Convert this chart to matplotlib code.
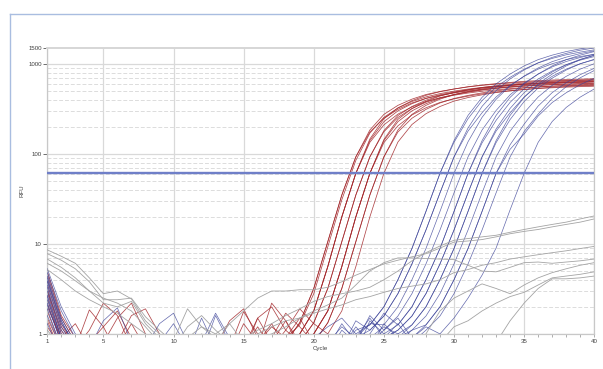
import matplotlib
matplotlib.use("Agg")
import matplotlib.pyplot as plt
from matplotlib.lines import Line2D
from matplotlib.ticker import FixedLocator, NullFormatter

# Cycle numbers
cycles = list(range(1, 41))

# Threshold (RFU)
threshold = 61

# Red samples (RFU per cycle)
red_rfu = [
    [3.2,1.0,0.6,0.7,0.6,0.8,0.6,0.7,0.6,0.8, 0.7,0.6,0.7,0.6,0.8,0.7,0.6,0.9,1.26,2.8, 9.3,31,85,171,256,325,384,432,470,501, 528,551,569,585,600,610,619,627,634,641],
    [4.1,1.3,0.7,1.85,1.2,0.6,0.7,0.6,0.7,0.6, 0.8,0.6,0.7,0.6,0.7,1.2,0.7,0.8,1.33,3.2, 10.6,35,93,185,276,348,408,459,497,529, 558,581,599,616,631,642,652,658,666,673],
    [2.5,0.8,0.6,0.7,0.8,1.5,2.2,1.0,0.6,0.7, 0.6,0.7,0.6,0.8,0.6,0.7,0.8,0.7,1.0,1.8, 5.6,20,61,141,229,302,363,417,457,490, 519,543,562,580,596,607,617,624,631,638],
    [1.8,0.7,0.6,0.8,0.6,0.7,0.6,0.7,0.8,0.6, 0.7,0.6,0.8,0.7,1.77,1.0,0.7,0.8,1.33,3.2, 10.6,35,93,176,250,314,370,415,449,479, 504,525,542,558,571,580,590,596,602,609],
    [3.6,1.2,0.7,1.1,2.2,1.6,0.7,0.6,0.7,0.6, 0.7,0.8,0.6,0.7,0.6,0.8,1.3,0.7,1.0,1.8, 5.6,20,61,147,247,326,392,450,494,529, 561,586,607,626,644,656,666,674,681,689],
    [1.4,0.6,0.7,0.6,0.8,0.7,1.3,0.7,0.6,0.8, 0.6,0.7,0.6,0.7,0.8,0.7,2.2,1.4,0.8,1.33, 3.2,10.6,35,93,177,255,321,377,424,459, 489,515,536,553,569,583,593,602,608,615],
    [2.9,0.9,0.6,0.7,0.6,0.8,1.6,1.9,1.0,0.6, 0.7,0.6,0.7,0.6,1.3,0.8,0.6,0.7,1.0,1.8, 5.6,20,61,135,211,278,334,384,420,451, 477,500,517,534,548,558,568,574,581,587],
    [2.2,0.8,0.6,0.7,0.6,0.7,0.6,0.8,0.6,0.7, 0.6,0.7,0.8,0.6,0.7,1.5,2.0,1.1,0.8,1.0, 1.8,5.6,20,61,141,229,302,363,417,457, 490,519,543,562,580,596,607,617,624,631],
    [1.5,0.7,0.6,0.8,0.7,0.6,0.7,0.6,0.8,0.6, 0.7,0.6,0.7,0.8,0.6,0.7,0.9,1.7,1.2,0.8, 1.33,3.2,10.6,35,93,176,250,314,370,415, 449,479,504,525,542,558,571,580,590,596],
    [4.6,1.5,0.8,0.6,0.7,0.6,0.7,0.8,0.6,0.7, 0.6,0.8,0.7,1.4,1.9,0.9,0.7,0.6,0.8,1.0, 1.8,5.6,20,61,134,206,272,327,375,411, 441,467,489,506,522,536,546,555,562,568],
    [2.0,0.9,1.3,0.7,0.6,0.7,0.6,0.8,0.6,0.7, 0.8,0.6,0.7,0.6,0.7,0.8,1.2,0.9,1.5,0.8, 1.33,3.2,10.6,35,93,185,276,348,408,459, 497,529,558,581,599,616,631,642,652,658],
    [3.0,1.1,0.6,0.7,0.8,0.6,0.7,0.6,0.7,0.8, 0.6,0.7,0.6,0.7,0.8,0.6,0.7,1.1,1.9,1.3, 1.0,1.8,5.6,20,61,136,213,281,338,388, 425,456,483,505,523,539,554,564,574,580],
    [1.2,0.7,0.6,0.8,1.2,1.8,0.9,0.6,0.7,0.6, 0.7,0.6,0.8,0.6,0.7,0.6,0.8,1.4,0.7,1.0, 1.8,5.6,20,61,145,243,320,385,442,484, 519,550,576,596,615,632,643,654,661,669],
    [5.0,1.6,0.9,0.6,0.7,0.6,0.8,0.6,0.7,0.6, 0.8,0.7,0.6,0.7,0.6,1.5,0.8,0.7,0.8,1.33, 3.2,10.6,35,93,182,268,338,397,446,482, 514,542,564,581,599,613,623,633,640,647],
]

# Blue samples (RFU per cycle)
blue_rfu = [
    [4.8,1.8,0.9,0.7,1.4,1.95,0.8,0.6,0.7,0.6, 0.7,0.6,0.8,0.6,0.7,0.6,0.7,0.8,0.6,0.9, 1.2,1.5,1.0,1.26,2.0,4.0,8.9,23,61,141, 269,427,603,776,955,1122,1259,1380,1479,1567],
    [3.5,1.2,0.7,0.6,0.8,0.7,0.6,0.7,1.3,1.7, 0.8,0.6,0.7,0.6,0.8,0.7,0.6,0.7,0.8,0.6, 0.9,0.7,1.1,1.26,2.0,4.0,8.9,23,61,135, 247,393,555,714,879,1032,1158,1270,1361,1442],
    [2.7,0.9,0.6,0.7,0.6,0.8,0.7,0.6,0.7,0.8, 0.6,1.5,0.7,0.6,0.7,0.6,0.8,0.7,0.6,0.8, 1.0,0.7,1.4,1.1,1.58,2.8,6.0,14.3,37,93, 195,339,507,684,861,1035,1189,1318,1429,1514],
    [4.2,1.4,0.7,0.6,0.7,0.6,0.8,0.6,0.7,0.6, 0.7,0.8,1.7,0.9,0.6,0.7,0.6,0.8,0.7,0.6, 0.8,1.2,0.9,1.1,1.58,2.8,6.0,14.3,37,93, 180,288,431,581,732,880,1011,1120,1215,1287],
    [3.0,1.0,0.6,0.8,0.7,0.6,0.7,0.6,0.8,1.3, 0.7,0.6,0.7,0.6,0.7,0.8,0.6,0.7,0.6,0.7, 0.8,0.6,0.9,1.3,1.26,2.0,4.0,8.9,23,61, 137,256,406,573,737,907,1066,1196,1311,1405],
    [2.1,0.8,0.6,0.7,0.6,0.7,0.8,0.6,0.7,0.6, 0.8,0.7,0.6,0.7,0.6,0.7,0.6,0.8,0.7,0.6, 0.7,1.3,0.8,1.6,1.1,1.58,2.8,6.0,14.3,37, 93,185,305,456,616,775,932,1070,1186,1286],
    [5.3,2.0,1.0,0.7,0.6,0.7,0.6,0.7,0.8,0.6, 0.7,0.6,1.6,0.8,0.6,0.7,0.6,0.7,0.8,0.6, 0.7,0.6,0.8,1.0,1.7,1.26,2.0,4.0,8.9,23, 61,141,269,427,603,776,955,1122,1259,1380],
    [1.6,0.7,0.6,0.8,0.6,0.7,0.6,0.8,0.7,0.6, 0.7,0.6,0.8,0.6,0.7,0.6,0.7,0.6,0.8,0.7, 0.6,1.1,0.8,0.7,1.0,1.26,2.0,4.0,8.9,23, 61,133,237,376,531,683,840,987,1108,1214],
    [3.8,1.3,0.8,0.6,0.7,0.6,0.7,0.6,0.7,0.8, 0.6,0.7,0.6,0.7,0.6,0.8,0.7,0.6,0.7,0.6, 0.8,0.7,1.2,0.8,0.9,1.1,1.58,2.8,6.0,14.3, 37,93,190,322,482,650,818,983,1130,1252],
    [2.4,0.9,0.7,0.6,0.8,0.6,0.7,0.6,0.8,0.6, 0.7,0.6,0.7,0.6,0.8,0.6,0.7,0.6,0.7,0.8, 0.6,0.7,0.9,1.5,0.9,1.1,1.58,2.8,6.0,14.3, 37,93,180,288,431,581,732,880,1011,1120],
    [4.4,1.5,0.8,0.6,0.7,0.6,0.7,0.6,0.7,0.6, 0.8,0.7,0.6,0.7,0.6,0.7,0.6,0.8,0.7,0.6, 0.7,0.6,0.8,0.7,1.3,0.9,1.26,2.0,4.0,8.9, 23,61,134,242,384,543,698,860,1010,1133],
    [1.9,0.7,0.6,0.7,0.6,0.8,0.6,0.7,0.6,0.7, 0.6,0.7,0.8,0.6,0.7,0.6,0.7,0.6,0.8,0.6, 0.7,0.8,0.6,0.9,1.2,1.0,1.26,2.0,4.0,8.9, 23,61,141,269,427,603,776,955,1122,1259],
    [3.3,1.1,0.7,0.6,0.7,0.6,0.8,0.6,0.7,0.6, 0.7,0.6,0.7,0.6,0.8,0.6,0.7,0.6,0.7,0.6, 0.8,0.7,0.6,1.4,1.0,0.8,1.1,1.58,2.8,6.0, 14.3,37,93,180,288,431,581,732,880,1011],
    [2.6,0.9,0.6,0.7,0.6,0.7,0.6,0.8,0.6,0.7, 0.6,0.7,0.6,0.7,0.6,0.7,0.6,0.7,0.8,0.6, 0.7,0.6,0.7,0.8,1.1,1.5,0.9,1.26,2.0,4.0, 8.9,23,61,127,215,342,482,621,764,898],
    [3.9,1.4,0.7,0.6,0.8,0.6,0.7,0.6,0.7,0.6, 0.7,0.6,0.7,0.6,0.7,0.6,0.7,0.6,0.7,0.6, 0.7,0.6,0.8,0.7,0.9,1.3,0.8,1.1,1.58,2.8, 6.0,14.3,37,93,178,278,416,561,706,849],
    [1.3,0.6,0.7,0.6,0.7,0.6,0.7,0.6,0.7,0.6, 0.7,0.6,0.7,0.6,0.7,0.6,0.7,0.6,0.7,0.6, 0.7,0.6,0.7,0.6,0.8,1.0,0.9,1.2,1.0,1.5, 2.5,4.5,9.0,24,61,135,230,330,430,530],
    [2.2,0.8,0.6,0.7,0.6,0.7,0.6,0.7,0.6,0.7, 0.6,0.7,0.6,0.7,0.6,0.7,0.6,0.7,0.6,0.7, 0.6,0.7,0.6,0.7,0.6,0.9,1.1,1.26,2.0,4.0, 8.9,23,61,113,167,265,374,481,592,696],
]

# Gray samples (RFU per cycle)
gray_rfu = [
    [8.6,7.3,6.1,4.2,2.8,3.0,2.45,1.4,1.0,0.85, 1.9,1.2,0.9,0.8,0.9,1.1,1.3,1.6,1.9,2.3, 2.6,2.8,3.0,3.3,4.0,5.0,6.5,8.0,9.5,11.0, 11.5,12.0,12.5,13.5,14.5,15.5,16.5,17.5,19.0,20.5],
    [7.8,6.6,5.3,3.8,2.4,2.4,2.5,1.55,1.1,0.8, 0.9,1.2,1.0,1.3,1.8,2.5,3.0,3.0,3.1,3.1, 3.3,3.8,4.5,5.2,6.0,6.6,7.2,7.8,9.0,10.5, 10.8,11.2,12.0,13.0,13.8,14.5,15.5,16.5,17.5,19.0],
    [6.8,5.5,4.2,3.0,2.2,2.0,2.3,1.3,0.9,0.7, 0.8,1.0,0.8,0.7,0.9,1.0,1.2,1.4,1.5,1.7, 1.9,2.1,2.4,2.6,2.9,3.2,3.4,3.6,4.0,4.8, 5.2,5.8,6.2,6.8,7.2,7.6,8.0,8.4,8.9,9.4],
    [6.1,5.0,3.9,3.0,2.5,2.2,1.8,1.2,0.8,0.7, 0.8,0.7,0.9,0.7,0.8,0.9,1.0,1.2,1.5,1.8, 2.1,2.5,3.5,5.0,6.2,7.0,7.0,6.9,6.8,6.7, 5.8,5.0,4.9,5.5,6.2,6.3,6.1,6.3,6.5,6.8],
    [5.2,4.0,3.0,2.4,2.0,1.7,1.3,1.0,0.8,0.7, 0.8,0.7,0.8,0.7,0.8,0.7,0.8,0.7,0.8,0.7, 0.8,0.7,0.8,0.7,0.8,0.7,0.8,1.0,1.8,2.5, 3.0,3.6,3.2,2.8,3.5,4.2,4.8,5.3,5.8,6.2],
    [1.1,0.7,0.8,0.7,0.8,0.7,0.8,0.7,0.8,0.7, 1.2,1.6,1.1,0.8,0.7,0.8,0.7,0.8,0.7,0.8, 0.7,0.8,0.7,0.8,0.7,0.8,0.7,0.8,0.8,1.2, 1.4,1.8,2.2,2.6,2.9,3.5,4.2,4.4,4.6,4.9],
    [0.9,0.7,0.8,0.7,0.8,0.7,0.8,0.7,0.8,0.7, 0.8,0.7,0.8,1.3,0.8,0.7,0.8,0.7,0.8,0.7, 0.8,0.7,0.8,0.7,0.8,0.7,0.8,0.7,0.8,0.7, 0.8,0.7,0.8,1.4,2.2,3.2,4.1,4.1,4.2,4.4],
]

x_labels = [1, 5, 10, 15, 20, 25, 30, 35, 40]
y_labels = [1, 10, 100, 1000, 1500]

fig = plt.figure(figsize=(6.03, 3.69), dpi=100)
ax = fig.add_axes([0.0784, 0.0951, 0.9071, 0.774])

grid_c = "#d9d9d9"
# Grid
for xv in x_labels:
    ax.axvline(xv, color=grid_c, lw=0.9, zorder=0)
for dec in [1, 10, 100]:
    for m in range(2, 10):
        ax.axhline(dec * m, color="#dcdcdc", lw=0.7, ls=(0, (4, 2)), zorder=0)
for yv in [1, 10, 100, 1000]:
    ax.axhline(yv, color=grid_c, lw=0.9, zorder=0)

# Curves
for v in red_rfu:
    ax.plot(cycles, v, color="#a3262a", lw=0.55, alpha=0.85, zorder=2)
for v in blue_rfu:
    ax.plot(cycles, v, color="#3d4499", lw=0.5, alpha=0.8, zorder=3)
for v in gray_rfu:
    ax.plot(cycles, v, color="#a4a4a4", lw=0.6, zorder=3)

ax.axhline(threshold, color="#6f7fc8", lw=1.7, zorder=4)

ax.set_yscale("log")
ax.set_xlim(1, 40)
ax.set_ylim(1, 1500)

ax.yaxis.set_major_locator(FixedLocator(y_labels))
ax.yaxis.set_minor_locator(FixedLocator([]))
ax.set_yticklabels([str(v) for v in y_labels])
ax.xaxis.set_major_locator(FixedLocator(x_labels))
ax.xaxis.set_minor_locator(FixedLocator(cycles))
ax.xaxis.set_minor_formatter(NullFormatter())
ax.set_xticklabels([str(v) for v in x_labels])

lab_font = dict(family="Liberation Sans", size=4.4, color="#404040")
for t in ax.get_xticklabels() + ax.get_yticklabels():
    t.set_fontfamily("Liberation Sans")
    t.set_fontsize(4.4)
    t.set_color("#404040")

ax.tick_params(axis="x", which="both", length=2.5, width=0.6, color="#a0a0a0", pad=1.5)
ax.tick_params(axis="y", which="major", length=3, width=0.6, color="#555555", pad=1)

for side in ["left", "bottom", "right"]:
    ax.spines[side].set_color("#c8c8c8")
    ax.spines[side].set_linewidth(0.9)
ax.spines["top"].set_color("#d6d6d6")
ax.spines["top"].set_linewidth(1.4)

ax.set_xlabel("Cycle", labelpad=1, **lab_font)
ax.set_ylabel("RFU", labelpad=3, **lab_font)

# Light blue frame around the panel
fig.add_artist(Line2D([9.5 / 603, 1.0], [1 - 13.5 / 369] * 2, color="#a9bde0", lw=1.0))
fig.add_artist(Line2D([9.5 / 603] * 2, [0.0, 1 - 13.5 / 369], color="#a9bde0", lw=1.0))

fig.savefig("out.png", dpi=100)
